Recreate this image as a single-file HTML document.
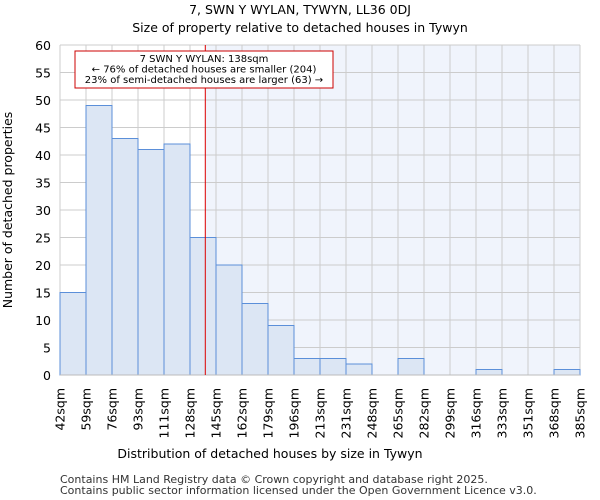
<!DOCTYPE html>
<html><head><meta charset="utf-8"><style>body{margin:0;background:#fff}svg{display:block;font-family:"DejaVu Sans","Liberation Sans",sans-serif}</style></head>
<body>
<svg id="c" width="600" height="500">
<text x="300" y="14" text-anchor="middle" font-size="12.5">7, SWN Y WYLAN, TYWYN, LL36 0DJ</text>
<text x="300" y="32" text-anchor="middle" font-size="12.5">Size of property relative to detached houses in Tywyn</text>
<g id="plot"></g>
<text x="270" y="458" text-anchor="middle" font-size="12.5">Distribution of detached houses by size in Tywyn</text>
<text transform="translate(12,210) rotate(-90)" text-anchor="middle" font-size="12.5">Number of detached properties</text>
<text x="60" y="483" font-size="11" fill="#333">Contains HM Land Registry data © Crown copyright and database right 2025.</text>
<text x="60" y="494" font-size="11" fill="#333">Contains public sector information licensed under the Open Government Licence v3.0.</text>
</svg>
<script>
const edges=[42,59,76,93,111,128,145,162,179,196,213,231,248,265,282,299,316,333,351,368,385];
const counts=[15,49,43,41,42,25,20,13,9,3,3,2,0,3,0,0,1,0,0,1];
const yTicks=[0,5,10,15,20,25,30,35,40,45,50,55,60];
const marker=138;
const X0=60,X1=580,Y0=375,Y1=45,NS="http://www.w3.org/2000/svg";
const bw=(X1-X0)/counts.length;
function xi(i){return X0+i*bw;}
function xv(v){let i=0;while(i<edges.length-2&&v>edges[i+1])i++;return xi(i)+(v-edges[i])/(edges[i+1]-edges[i])*bw;}
function y(v){return Y0-(v-0)/(60-0)*(Y0-Y1);}
const g=document.getElementById('plot');
function el(t,a){const e=document.createElementNS(NS,t);for(const k in a)e.setAttribute(k,a[k]);g.appendChild(e);return e;}
const mx=xv(marker);
let r=el('rect',{x:mx,y:Y1,width:X1-mx,height:Y0-Y1,fill:'#f0f4fc'});


yTicks.forEach(t=>{
 let l=el('line',{x1:X0,x2:X1,y1:y(t),y2:y(t),stroke:'#cccccc'});
 
 
 let tx=el('text',{x:X0-9,y:y(t)+5,'text-anchor':'end','font-size':12.5});
 tx.textContent=t;
 
 
});
edges.forEach((e,i)=>{
 let l=el('line',{x1:xi(i),x2:xi(i),y1:Y1,y2:Y0,stroke:'#cccccc'});
 
 
 let tx=el('text',{transform:`translate(${xi(i)+4.5},388) rotate(-90)`,'text-anchor':'end','font-size':12.5});
 tx.textContent=e+'sqm';
 
 
});
counts.forEach((c,i)=>{
 let b=el('rect',{x:xi(i),y:y(c),width:bw,height:Y0-y(c),fill:'#dce6f4',stroke:'#5b8fd9','stroke-width':1});
 
 
});
let ax=el('line',{x1:X0,x2:X1,y1:Y0,y2:Y0,stroke:'#bbbbbb'});


let ml=el('line',{x1:mx,x2:mx,y1:Y1,y2:Y0,stroke:'#dd0000','stroke-width':1});


let box=el('rect',{x:75,y:51,width:258,height:37,fill:'#fff',stroke:'#cc0000'});


["7 SWN Y WYLAN: 138sqm","← 76% of detached houses are smaller (204)","23% of semi-detached houses are larger (63) →"].forEach((s,i)=>{
 let t=el('text',{x:204,y:62+i*10.5,'text-anchor':'middle','font-size':10});
 t.textContent=s;
 
 
});
</script>
</body></html>
